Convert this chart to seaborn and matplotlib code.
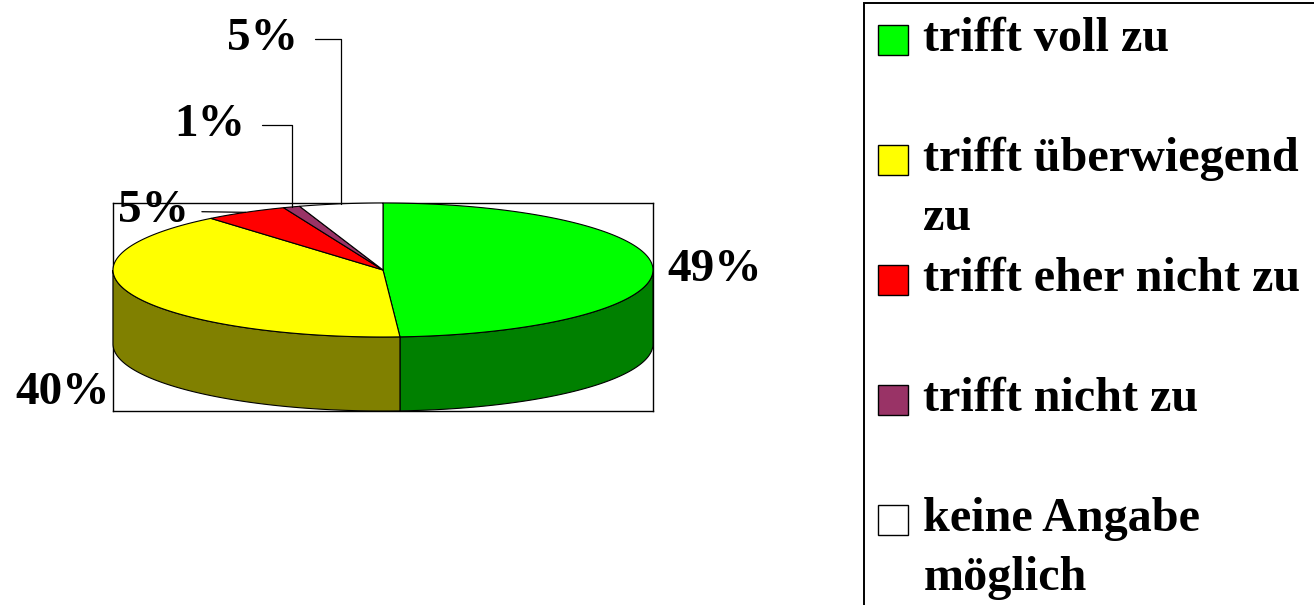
import numpy as np
import matplotlib
matplotlib.use("Agg")
import matplotlib.pyplot as plt
import seaborn as sns
from matplotlib.patches import Rectangle, Patch
from matplotlib.legend_handler import HandlerPatch

# ---------------- data ----------------
categories = ["trifft voll zu", "trifft überwiegend zu", "trifft eher nicht zu",
              "trifft nicht zu", "keine Angabe möglich"]
legend_labels = ["trifft voll zu\n", "trifft überwiegend\nzu", "trifft eher nicht zu\n",
                 "trifft nicht zu\n", "keine Angabe\nmöglich"]
shares = [49, 40, 5, 1, 5]
pct_labels = ["49%", "40%", "5%", "1%", "5%"]
top_colors = ["#00FF00", "#FFFF00", "#FF0000", "#993366", "#FFFFFF"]
side_colors = ["#008000", "#808000", "#800000", "#4D1A33", "#C0C0C0"]

# label placement (figure pixels: left x, baseline y from top) and leader style
label_pos = [(667, 281), (15, 404), (118, 222), (174, 136), (227, 50)]
leader = [None, None, "straight", "elbow", "elbow"]

# ---------------- figure ----------------
sns.set_theme(style="white")
plt.rcParams["font.family"] = ["Liberation Serif", "DejaVu Serif"]

W, H, DPI = 1314, 605, 100
fig = plt.figure(figsize=(W / DPI, H / DPI), dpi=DPI)
fig.patch.set_facecolor("white")

ax = fig.add_axes([113 / W, 1 - 411 / H, 540 / W, 208 / H])
b = 67 / 270   # minor semi-axis of the top ellipse
d = 74 / 270   # depth of the pie
ax.set_xlim(-1, 1)
ax.set_ylim(-(b + d), b)
ax.set_xticks([])
ax.set_yticks([])
ax.set_facecolor("white")
for s in ax.spines.values():
    s.set_color("black")
    s.set_linewidth(1.0)

frac = np.array(shares, dtype=float) / sum(shares)
edges = 90 - 360 * np.concatenate([[0], np.cumsum(frac)])   # clockwise from 12 o'clock

ekw = dict(edgecolor="black", linewidth=0.8, clip_on=False)

# side walls (front half only)
for i in range(len(shares)):
    t0, t1 = edges[i], edges[i + 1]
    lo, hi = max(t1, -180.0), min(t0, 0.0)
    if hi > lo:
        th = np.radians(np.linspace(lo, hi, 120))
        xs = np.concatenate([np.cos(th), np.cos(th[::-1])])
        ys = np.concatenate([b * np.sin(th), b * np.sin(th[::-1]) - d])
        ax.fill(xs, ys, facecolor=side_colors[i], zorder=3, **ekw)

# top faces
for i in range(len(shares)):
    t0, t1 = edges[i], edges[i + 1]
    th = np.radians(np.linspace(t0, t1, 200))
    xs = np.concatenate([[0], np.cos(th), [0]])
    ys = np.concatenate([[0], b * np.sin(th), [0]])
    ax.fill(xs, ys, facecolor=top_colors[i], zorder=4, **ekw)

# percentage labels
lab_font = dict(fontsize=34, fontweight="bold", color="black",
                family=["Liberation Serif", "DejaVu Serif"])
for i, txt in enumerate(pct_labels):
    px, py = label_pos[i]
    mid = np.radians((edges[i] + edges[i + 1]) / 2)
    anchor = (np.cos(mid), b * np.sin(mid))
    if leader[i] is None:
        ax.annotate(txt, xy=anchor, xytext=(px, H - py), textcoords="figure pixels",
                    ha="left", va="baseline", annotation_clip=False, zorder=6, **lab_font)
    elif leader[i] == "straight":
        ax.annotate(txt, xy=anchor, xytext=(px, H - py), textcoords="figure pixels",
                    ha="left", va="baseline", annotation_clip=False, zorder=6,
                    arrowprops=dict(arrowstyle="-", color="black", lw=0.9,
                                    shrinkA=7, shrinkB=0,
                                    connectionstyle="arc3,rad=0"),
                    **lab_font)
    else:
        ax.annotate(txt, xy=anchor, xytext=(px, H - py), textcoords="figure pixels",
                    ha="left", va="baseline", annotation_clip=False, zorder=6,
                    arrowprops=dict(arrowstyle="-", color="black", lw=0.9,
                                    shrinkA=10, shrinkB=0,
                                    connectionstyle="angle,angleA=0,angleB=90,rad=0"),
                    **lab_font)


# ---------------- legend ----------------
class FirstLineSquare(HandlerPatch):
    def create_artists(self, legend, orig_handle, xdescent, ydescent,
                       width, height, fontsize, trans):
        shift = 0.63 * fontsize
        p = Rectangle((-xdescent, shift), width, width)
        self.update_prop(p, orig_handle, legend)
        p.set_transform(trans)
        return [p]


handles = [Patch(facecolor=c, edgecolor="black", linewidth=1.0) for c in top_colors]
leg = fig.legend(handles, legend_labels, loc="upper left", mode="expand",
                 bbox_to_anchor=(864 / W, 0, 480 / W, 1 - 3 / H),
                 bbox_transform=fig.transFigure,
                 borderaxespad=0, borderpad=0.29, labelspacing=0.35,
                 handlelength=0.62, handleheight=0.62, handletextpad=0.32,
                 frameon=True, fancybox=False, framealpha=1, edgecolor="black",
                 labelcolor="black",
                 prop=dict(family="Liberation Serif", weight="bold", size=34.7),
                 handler_map={Patch: FirstLineSquare()})
leg.get_frame().set_linewidth(1.4)
for t in leg.get_texts():
    t.set_linespacing(1.44)
    t.set_color("black")

fig.savefig("out.png", dpi=DPI)
